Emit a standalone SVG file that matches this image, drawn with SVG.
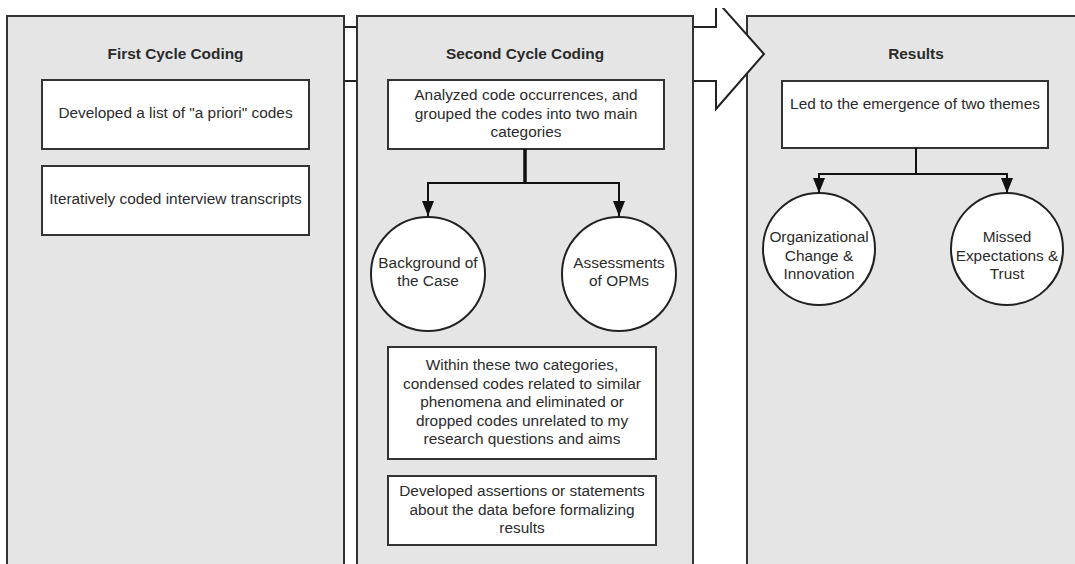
<svg xmlns="http://www.w3.org/2000/svg" width="1075" height="564" viewBox="0 0 1075 564">
<style>
.panel{fill:#e5e5e5;stroke:#333;stroke-width:2}
.box{fill:#fff;stroke:#333;stroke-width:2}
.circ{fill:#fff;stroke:#222;stroke-width:2}
text{font-family:"Liberation Sans",Arial,sans-serif;font-size:15.4px;fill:#2b2b2b;text-anchor:middle}
.title{font-weight:bold}
.conn{fill:none;stroke:#111;stroke-width:2}
</style>
<defs>
<marker id="ah" viewBox="0 0 15 12" refX="15" refY="6" markerWidth="15" markerHeight="12" markerUnits="userSpaceOnUse" orient="auto">
<path d="M0,0 L15,6 L0,12 Z" fill="#111"/>
</marker>
<clipPath id="clipTop"><rect x="0" y="8" width="1075" height="556"/></clipPath>
</defs>
<rect width="1075" height="564" fill="#fff"/>

<g id="panel-results">
<rect class="panel" x="747" y="16" width="400" height="600"/>
<text class="title" x="916" y="59">Results</text>
</g>

<g id="big-arrow" clip-path="url(#clipTop)">
<polygon points="200,27 716,27 716,0 764,54 716,109 716,81 200,81" fill="#fff" stroke="#222" stroke-width="2"/>
</g>

<g id="panel-first">
<rect class="panel" x="7" y="16" width="337" height="600"/>
<text class="title" x="175.5" y="59">First Cycle Coding</text>
</g>
<g id="panel-second">
<rect class="panel" x="357" y="16" width="336" height="600"/>
<text class="title" x="525" y="59">Second Cycle Coding</text>
</g>

<g id="n-apriori">
<rect class="box" x="42" y="80" width="267" height="69"/>
<text x="175.5" y="118">Developed a list of "a priori" codes</text>
</g>
<g id="n-iterative">
<rect class="box" x="42" y="166" width="267" height="69"/>
<text x="175.5" y="204">Iteratively coded interview transcripts</text>
</g>

<g id="n-analyzed">
<rect class="box" x="388" y="80" width="276" height="69"/>
<text x="526" y="100">Analyzed code occurrences, and</text>
<text x="526" y="118.5">grouped the codes into two main</text>
<text x="526" y="137">categories</text>
</g>
<g id="n-background">
<circle class="circ" cx="428" cy="274" r="57"/>
<text x="428" y="268">Background of</text>
<text x="428" y="286">the Case</text>
</g>
<g id="n-assessments">
<circle class="circ" cx="619" cy="274" r="57"/>
<text x="619" y="268">Assessments</text>
<text x="619" y="286">of OPMs</text>
</g>
<g id="n-within">
<rect class="box" x="388" y="347" width="268" height="112"/>
<text x="522" y="370">Within these two categories,</text>
<text x="522" y="388.5">condensed codes related to similar</text>
<text x="522" y="407">phenomena and eliminated or</text>
<text x="522" y="425.5">dropped codes unrelated to my</text>
<text x="522" y="444">research questions and aims</text>
</g>
<g id="n-assertions">
<rect class="box" x="388" y="476" width="268" height="69"/>
<text x="522" y="496">Developed assertions or statements</text>
<text x="522" y="514.5">about the data before formalizing</text>
<text x="522" y="533">results</text>
</g>

<g id="n-led">
<rect class="box" x="782" y="81" width="266" height="67"/>
<text x="915" y="109">Led to the emergence of two themes</text>
</g>
<g id="n-org">
<circle class="circ" cx="819" cy="249" r="56"/>
<text x="819" y="242">Organizational</text>
<text x="819" y="260.5">Change &amp;</text>
<text x="819" y="279">Innovation</text>
</g>
<g id="n-missed">
<circle class="circ" cx="1007" cy="249" r="56"/>
<text x="1007" y="242">Missed</text>
<text x="1007" y="260.5">Expectations &amp;</text>
<text x="1007" y="279">Trust</text>
</g>

<g id="connectors">
<line x1="525" y1="149" x2="525" y2="184" stroke="#111" stroke-width="3.5"/>
<path class="conn" d="M525,183 H428 V216" marker-end="url(#ah)"/>
<path class="conn" d="M525,183 H619 V216" marker-end="url(#ah)"/>
<line x1="916" y1="148" x2="916" y2="174" stroke="#111" stroke-width="2"/>
<path class="conn" d="M916,174 H819 V193" marker-end="url(#ah)"/>
<path class="conn" d="M916,174 H1007 V193" marker-end="url(#ah)"/>
</g>
</svg>
